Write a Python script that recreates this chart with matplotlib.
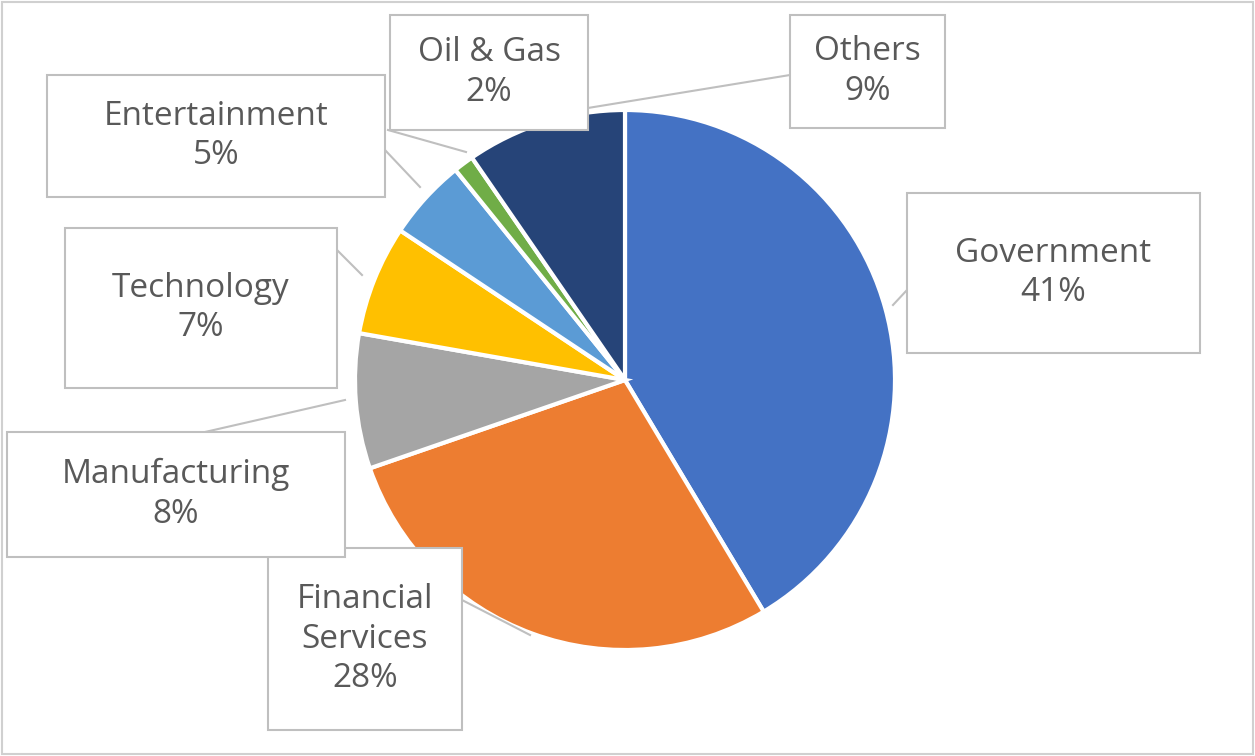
import matplotlib
matplotlib.use("Agg")
import matplotlib.pyplot as plt
from matplotlib.patches import Rectangle

# data
sectors = ["Government", "Financial\nServices", "Manufacturing", "Technology",
           "Entertainment", "Oil & Gas", "Others"]
shares = [41, 28, 8, 6.5, 4.8, 1.2, 9.5]
share_labels = ["41%", "28%", "8%", "7%", "5%", "2%", "9%"]
colors = ["#4472C4", "#ED7D31", "#A5A5A5", "#FFC000", "#5B9BD5", "#70AD47", "#264478"]

# callout boxes (left, top, right, bottom) in pixels from top-left, and leader line ends
boxes = [(907, 193, 1200, 353), (268, 548, 462, 730), (7, 432, 345, 557),
         (65, 228, 337, 388), (47, 75, 385, 197), (390, 15, 588, 130), (790, 15, 945, 128)]
leaders = [((907, 290), (893, 305)), ((462, 600), (530, 635)), ((205, 432), (345, 400)),
           ((337, 250), (362, 275)), ((385, 150), (420, 187)), ((388, 130), (466, 152)),
           ((790, 75), (545, 115))]

W, H = 1255, 756
fig = plt.figure(figsize=(W / 100, H / 100), dpi=100)
ax = fig.add_axes([0, 0, 1, 1])
ax.set_xlim(0, W)
ax.set_ylim(0, H)
ax.axis("off")

ax.pie(shares, colors=colors, startangle=90, counterclock=False,
       center=(625, H - 380), radius=270, frame=True,
       wedgeprops=dict(edgecolor="white", linewidth=3))
ax.set_xlim(0, W)
ax.set_ylim(0, H)
ax.axis("off")

ax.add_patch(Rectangle((2, 2), W - 4, H - 4, fill=False, edgecolor="#D0D0D0", lw=1.5))

for name, lab, (l, t, r, b), (p1, p2) in zip(sectors, share_labels, boxes, leaders):
    ax.plot([p1[0], p2[0]], [H - p1[1], H - p2[1]], color="#BFBFBF", lw=1.5, zorder=3)
    ax.add_patch(Rectangle((l, H - b), r - l, b - t, facecolor="white",
                           edgecolor="#BFBFBF", lw=1.5, zorder=4))
    ax.text((l + r) / 2, H - (t + b) / 2, name + "\n" + lab, ha="center", va="center",
            fontsize=24, family="Open Sans", color="#595959", zorder=5, linespacing=1.25)

fig.savefig("out.png", dpi=100)
